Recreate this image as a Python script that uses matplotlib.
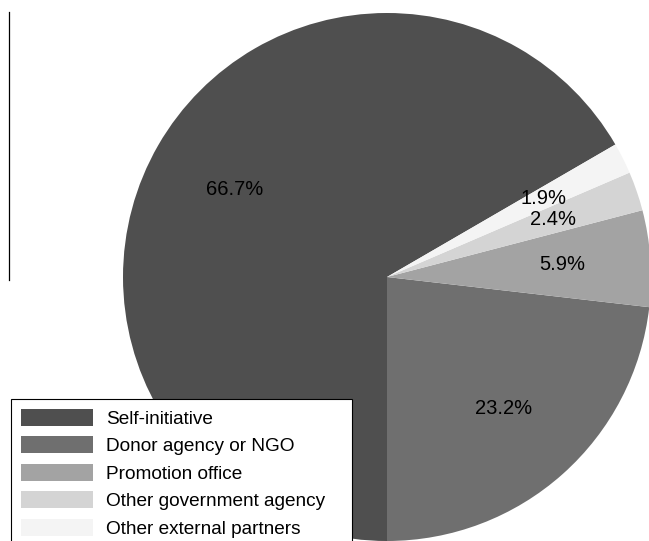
import matplotlib.pyplot as plt
from matplotlib.lines import Line2D

plt.rcParams['font.family'] = ['Liberation Sans', 'DejaVu Sans']

sources = ['Self-initiative', 'Donor agency or NGO', 'Promotion office',
           'Other government agency', 'Other external partners']
shares = [66.7, 23.2, 5.9, 2.4, 1.9]
greys = ['#4f4f4f', '#6f6f6f', '#a3a3a3', '#d4d4d4', '#f4f4f4']

fig = plt.figure(figsize=(6.49, 5.41), dpi=100)
W, H = 649, 541
cx, cy, r = 387, 277, 264
ax = fig.add_axes([(cx - r) / W, (H - cy - r) / H, 2 * r / W, 2 * r / H])

# first slice ends at the bottom (270 deg), the rest go on counter-clockwise
start = 270 - 360 * shares[0] / sum(shares)
vals = iter(shares)
wedges, texts, autotexts = ax.pie(shares, colors=greys, startangle=start,
                                  autopct=lambda p: '%.1f%%' % next(vals), pctdistance=0.665,
                                  wedgeprops=dict(linewidth=0),
                                  textprops=dict(fontsize=14.5, color='black'))
ax.set_xlim(-1, 1)
ax.set_ylim(-1, 1)
ax.axis('off')

# stray vertical rule at the left
fig.add_artist(Line2D([8.5 / W, 8.5 / W], [1 - 12 / H, 1 - 280 / H],
                      transform=fig.transFigure, color='black', linewidth=0.9))

leg = fig.legend(wedges, sources, loc='upper left', mode='expand',
                 bbox_to_anchor=(11 / W, 1 - 399 / H - 0.01, 341 / W, 0.01),
                 bbox_transform=fig.transFigure,
                 borderaxespad=0, fontsize=13.7, frameon=True, fancybox=False,
                 handlelength=3.8, handleheight=1.0, handletextpad=0.7,
                 labelspacing=0.45, borderpad=0.5)
leg.get_frame().set_edgecolor('black')
leg.get_frame().set_linewidth(0.8)
leg.get_frame().set_alpha(1)

fig.savefig('out.png', dpi=100)
